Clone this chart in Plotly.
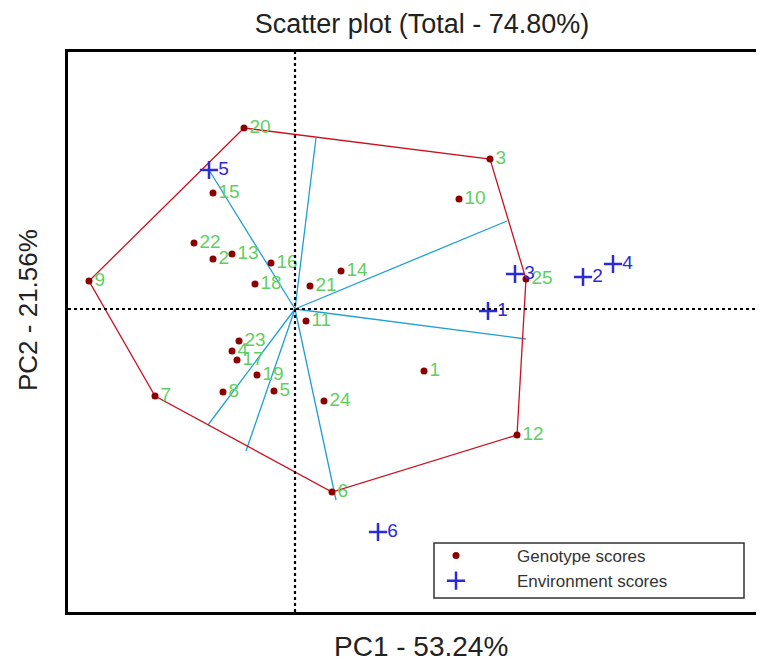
import plotly.graph_objects as go

# ---------------- data ----------------
geno_labels = [str(i) for i in range(1, 26)]
geno_x = [2.58, -1.64, 3.90, -1.26, -0.42, 0.74, -2.80, -1.44, -4.12, 3.28,
          0.22, 4.44, -1.26, 0.92, -1.64, -0.48, -1.16, -0.80, -0.76, -1.02,
          0.30, -2.02, -1.12, 0.58, 4.62]
geno_y = [-1.24, 1.00, 3.00, -0.84, -1.64, -3.66, -1.74, -1.66, 0.56, 2.20,
          -0.24, -2.52, 1.10, 0.76, 2.32, 0.92, -1.02, 0.50, -1.32, 3.62,
          0.46, 1.32, -0.64, -1.84, 0.60]

env_labels = ["1", "2", "3", "4", "5", "6"]
env_x = [3.86, 5.76, 4.40, 6.36, -1.72, 1.66]
env_y = [-0.04, 0.64, 0.70, 0.90, 2.78, -4.46]

# polygon vertices (genotype numbers), closed
hull_order = ["20", "3", "25", "12", "6", "7", "9", "20"]

# rays from the origin (end points)
ray_x = [0.42, 4.24, 4.62, 0.82, -0.98, -1.74, -1.72]
ray_y = [3.42, 1.76, -0.60, -3.82, -2.84, -2.32, 2.78]

title_text = "Scatter plot (Total - 74.80%)"
x_title = "PC1 - 53.24%"
y_title = "PC2 - 21.56%"
legend_names = ["Genotype scores", "Environment scores"]
x_range = [-4.54, 9.38]
y_range = [-6.06, 5.14]

# ---------------- figure ----------------
# the page body has an 8px margin, so the figure is 8px smaller
OFF = 8
W, H = 764 - OFF, 665 - OFF
PL, PT, PR, PB = 68, 52, 764, 612          # plot box in page pixels
ml, mt = PL - OFF, PT - OFF
mr, mb = 0, 665 - PB
PW, PH = PR - PL, PB - PT


def px(p):
    return (p - PL) / PW


def py(p):
    return (PB - p) / PH


RED = "#CD1020"
CYAN = "#1E9FD6"
DOT = "#8B0000"
GREEN = "#5FCF5F"
BLUE = "#2B2BD8"
FONT = "Liberation Sans, Arial"

fig = go.Figure()

# rays
rx, ry = [], []
for ex, ey in zip(ray_x, ray_y):
    rx += [0, ex, None]
    ry += [0, ey, None]
fig.add_trace(go.Scatter(x=rx, y=ry, mode="lines", line=dict(color=CYAN, width=1.3),
                         showlegend=False, hoverinfo="skip"))

# polygon
idx = {l: i for i, l in enumerate(geno_labels)}
fig.add_trace(go.Scatter(x=[geno_x[idx[l]] for l in hull_order],
                         y=[geno_y[idx[l]] for l in hull_order],
                         mode="lines", line=dict(color=RED, width=1.3),
                         showlegend=False, hoverinfo="skip"))

# genotype points + labels
fig.add_trace(go.Scatter(x=geno_x, y=geno_y, mode="markers+text", text=geno_labels,
                         textposition="middle right",
                         textfont=dict(color=GREEN, size=19, family=FONT),
                         marker=dict(color=DOT, size=7),
                         showlegend=False))
# environment points + labels
fig.add_trace(go.Scatter(x=env_x, y=env_y, mode="markers+text", text=env_labels,
                         textposition="middle right",
                         textfont=dict(color=BLUE, size=19, family=FONT),
                         marker=dict(symbol="cross-thin", size=13, color=BLUE,
                                     line=dict(color=BLUE, width=2.5)),
                         showlegend=False))

# legend entries
fig.add_trace(go.Scatter(x=[None], y=[None], mode="markers", name=legend_names[0],
                         marker=dict(color=DOT, size=7)))
fig.add_trace(go.Scatter(x=[None], y=[None], mode="markers", name=legend_names[1],
                         marker=dict(symbol="cross-thin", size=13, color=BLUE,
                                     line=dict(color=BLUE, width=2.5))))

# origin reference lines
fig.add_shape(type="line", xref="paper", yref="y", x0=0, x1=1, y0=0, y1=0,
              line=dict(color="black", width=2.2, dash="dot"))
fig.add_shape(type="line", xref="x", yref="paper", x0=0, x1=0, y0=0, y1=1,
              line=dict(color="black", width=2.2, dash="dot"))

# legend frame
fig.add_shape(type="rect", xref="paper", yref="paper",
              x0=px(434), x1=px(744), y0=py(598), y1=py(543),
              line=dict(color="#333333", width=1.5), fillcolor="white", layer="below")

fig.update_xaxes(range=x_range, showgrid=False, zeroline=False, showticklabels=False,
                 ticks="", showline=True, mirror=True, linecolor="black", linewidth=3)
fig.update_yaxes(range=y_range, showgrid=False, zeroline=False, showticklabels=False,
                 ticks="", showline=True, mirror=False, linecolor="black", linewidth=3)

fig.add_annotation(text=x_title, xref="paper", yref="paper",
                   x=px(421), y=py(646), xanchor="center", yanchor="middle", showarrow=False,
                   font=dict(size=28, color="#222222", family=FONT))
fig.add_annotation(text=y_title, xref="paper", yref="paper", textangle=-90,
                   x=px(28), y=py(310), xanchor="center", yanchor="middle", showarrow=False,
                   font=dict(size=26, color="#222222", family=FONT))

fig.update_layout(
    width=W, height=H,
    margin=dict(l=ml, r=mr, t=mt, b=mb),
    paper_bgcolor="white", plot_bgcolor="white",
    title=dict(text=title_text, x=(422 - OFF) / W, xanchor="center",
               y=1 - (24 - OFF) / H, yanchor="middle",
               font=dict(size=27, color="#222222", family=FONT)),
    legend=dict(x=px(395), xanchor="left", y=py(538), yanchor="top",
                bgcolor="rgba(0,0,0,0)", borderwidth=0, itemwidth=112,
                tracegroupgap=0,
                font=dict(size=17, color="#333333", family=FONT)),
    showlegend=True,
)

fig.write_html("out.html")
